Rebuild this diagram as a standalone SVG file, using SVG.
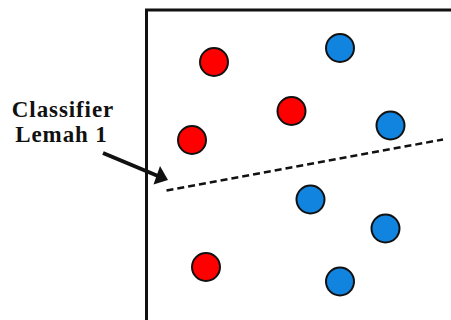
<svg xmlns="http://www.w3.org/2000/svg" width="451" height="320" viewBox="0 0 451 320">
<style>
.red{fill:#ff0000;stroke:#111;stroke-width:2}
.blue{fill:#1184e0;stroke:#111;stroke-width:2}
.lbl{font-family:"Liberation Serif","Times New Roman",serif;font-weight:bold;font-size:23px;letter-spacing:0.9px;fill:#111;text-anchor:middle}
</style>
<rect width="451" height="320" fill="#fff"/>
<g id="frame"><path d="M146.5,330 V10 H460" fill="none" stroke="#111" stroke-width="3"/></g>
<g id="points">
<circle class="red" cx="214" cy="62" r="14"/>
<circle class="blue" cx="340" cy="48" r="14"/>
<circle class="red" cx="291.5" cy="111" r="14"/>
<circle class="blue" cx="390.5" cy="125.5" r="14"/>
<circle class="red" cx="192" cy="140" r="14"/>
<circle class="blue" cx="310.5" cy="199.5" r="14"/>
<circle class="blue" cx="385.5" cy="228.5" r="14"/>
<circle class="red" cx="206" cy="267" r="14"/>
<circle class="blue" cx="340" cy="281.5" r="14"/>
</g>
<g id="classifier"><line x1="166.5" y1="190.5" x2="443" y2="139.5" stroke="#111" stroke-width="2.5" stroke-dasharray="7,4"/></g>
<g id="label">
<text class="lbl" x="63" y="116.5">Classifier</text>
<text class="lbl" x="61.5" y="141.5">Lemah 1</text>
</g>
<g id="connectors">
<line x1="103" y1="153" x2="158" y2="176" stroke="#111" stroke-width="4"/>
<polygon points="168,180 160,166 153.5,184.5" fill="#111"/>
</g>
</svg>
